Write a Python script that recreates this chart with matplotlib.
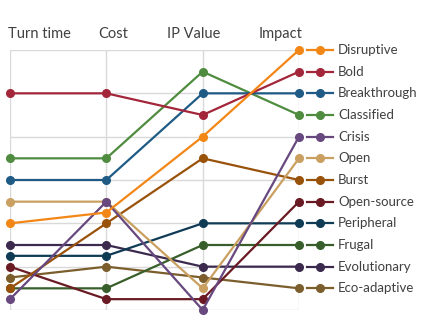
import numpy as np
import matplotlib.pyplot as plt

# axes and series
axes_names = ["Turn time", "Cost", "IP Value", "Impact"]
names = ["Disruptive", "Bold", "Breakthrough", "Classified", "Crisis", "Open",
         "Burst", "Open-source", "Peripheral", "Frugal", "Evolutionary", "Eco-adaptive"]
colors = ["#F28717", "#A3263A", "#1F5B85", "#4F8C3F", "#67487F", "#C9A060",
          "#99520A", "#6A1A22", "#0F3B55", "#385F2B", "#3B2A4D", "#7B5E2C"]

disruptive = [2.0, 2.25, 4.0, 6.0]
bold = [5.0, 5.0, 4.5, 5.5]
breakthrough = [3.0, 3.0, 5.0, 5.0]
classified = [3.5, 3.5, 5.5, 4.5]
crisis = [0.25, 2.5, 0.0, 4.0]
open_ = [2.5, 2.5, 0.5, 3.5]
burst = [0.5, 2.0, 3.5, 3.0]
open_source = [1.0, 0.25, 0.25, 2.5]
peripheral = [1.25, 1.25, 2.0, 2.0]
frugal = [0.5, 0.5, 1.5, 1.5]
evolutionary = [1.5, 1.5, 1.0, 1.0]
eco_adaptive = [0.75, 1.0, 0.75, 0.5]

series = [disruptive, bold, breakthrough, classified, crisis, open_, burst,
          open_source, peripheral, frugal, evolutionary, eco_adaptive]

fig = plt.figure(figsize=(4.26, 3.28), dpi=100)
ax = fig.add_axes([10 / 426, 18 / 328, 289 / 426, 260 / 328])
ax.set_xlim(0, 3)
ax.set_ylim(0, 6)
for s in ax.spines.values():
    s.set_visible(False)
ax.set_xticks([])
ax.set_yticks([])

grid_c = "#D9D9D9"
for yv in range(7):
    ax.axhline(yv, color=grid_c, lw=1, zorder=0)
for xv in range(4):
    ax.axvline(xv, color=grid_c, lw=1, zorder=0)

x = np.arange(len(axes_names))
# draw back to front so top-listed series sit on top
for name, vals, c in reversed(list(zip(names, series, colors))):
    ax.plot(x, vals, color=c, lw=1.6, marker="o", ms=5.5, zorder=3, clip_on=False)
    # legend entry at the Impact value
    ax.plot([3.083, 3.353], [vals[-1], vals[-1]], color=c, lw=1.6, clip_on=False, zorder=3)
    ax.plot([3.218], [vals[-1]], color=c, marker="o", ms=5.5, clip_on=False, zorder=3)
    ax.text(3.405, vals[-1], name, va="center", ha="left", fontsize=9.5,
            family="Lato", color="#404040")

# column headers
hdr_x = [8, 98, 167, 303]
hdr_ha = ["left", "left", "left", "right"]
for name, hx, ha in zip(axes_names, hdr_x, hdr_ha):
    fig.text(hx / 426, 1 - 34 / 328, name, ha=ha, va="center", fontsize=10.5,
             family="Lato", color="#404040")

fig.savefig("out.png", dpi=100)
